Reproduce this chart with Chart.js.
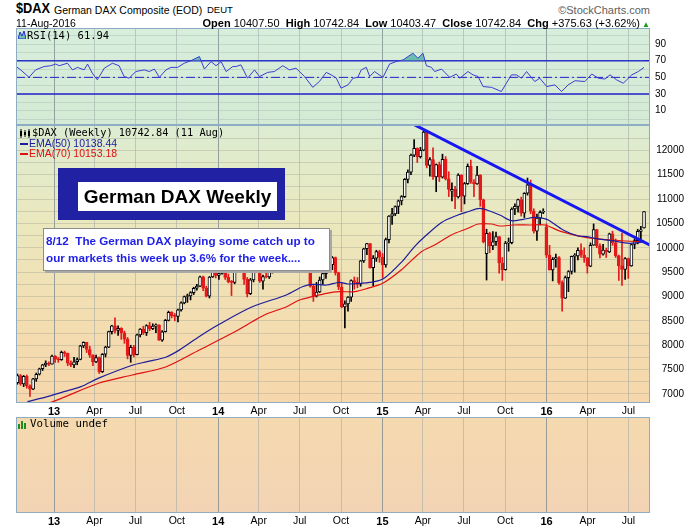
<!DOCTYPE html>
<html>
<head>
<meta charset="utf-8">
<script src="https://cdn.jsdelivr.net/npm/chart.js@4.4.1/dist/chart.umd.min.js"></script>
<style>
  body { margin: 0; width: 700px; height: 530px; background: #fff; position: relative; overflow: hidden;
         font-family: "Liberation Sans", Arial, sans-serif; color: #000; }
  canvas { position: absolute; left: 0; }
  .t { position: absolute; white-space: nowrap; line-height: 14px; }
  .mono { font-family: "DejaVu Sans Mono", monospace; }
  #boxTitle { position: absolute; left: 58px; top: 168px; width: 227px; height: 52px; background: #2121a3; }
  #boxTitle div { position: absolute; left: 20px; top: 14px; width: 199px; height: 29px; background: #fff;
                  font: bold 19px "Liberation Sans", Arial, sans-serif; line-height: 29px; text-align: center; }
  #boxNote { position: absolute; left: 43px; top: 228px; width: 283px; height: 38px; background: #fff;
             border: 1px solid #8c8c8c; box-shadow: 2px 2px 0 #a8a8a8;
             font: bold 11.7px "Liberation Sans", Arial, sans-serif; color: #1f1fe6; line-height: 17px; padding: 3px 0 0 2px; box-sizing: content-box; }
</style>
</head>
<body>
<canvas id="rsiChart" width="700" height="97" style="top:28px"></canvas>
<canvas id="priceChart" width="700" height="295" style="top:125px"></canvas>
<canvas id="volChart" width="700" height="113" style="top:417px"></canvas>

<!-- header -->
<div class="t" style="left:16px;top:1px;font-weight:bold;font-size:15px;transform:scaleX(0.85);transform-origin:left">$DAX</div>
<div class="t" style="left:54px;top:3px;font-size:10.5px">German DAX Composite (EOD)</div>
<div class="t" style="left:207px;top:3px;font-size:9.5px">DEUT</div>
<div class="t" style="right:50px;top:3px;font-size:11px;color:#606060">&copy;StockCharts.com</div>
<div class="t" style="left:16px;top:16px;font-size:10.5px">11-Aug-2016</div>
<div class="t" style="right:50px;top:16px;font-size:11px">
  <b>Open</b> 10407.50 &nbsp;<b>High</b> 10742.84 &nbsp;<b>Low</b> 10403.47 &nbsp;<b>Close</b> 10742.84 &nbsp;<b>Chg</b> +375.63 (+3.62%)<span style="color:#1a9a1a;font-size:8px"> &#9650;</span>
</div>

<!-- RSI legend -->
<svg style="position:absolute;left:18px;top:31px" width="8" height="8"><path d="M0 8 L2 1 L4 5 L6 0 L8 8 Z" fill="#6fc0b0" stroke="#2a2ad0" stroke-width="1"/></svg>
<div class="t mono" style="left:27px;top:28px;font-size:10.5px">RSI(14) 61.94</div>

<!-- price legend -->
<svg style="position:absolute;left:19px;top:129px" width="12" height="9">
  <path d="M2 0 V9 M6 1 V8 M10 0 V9" stroke="#000"/><rect x="1" y="2" width="2" height="5" fill="#000"/><rect x="5" y="3" width="2" height="3" fill="#000"/><rect x="9" y="2" width="2" height="5" fill="#000"/>
</svg>
<div class="t mono" style="left:32px;top:125px;font-size:10.3px">$DAX (Weekly) 10742.84 (11 Aug)</div>
<div style="position:absolute;left:20px;top:143px;width:8px;height:2px;background:#1c1c9c"></div>
<div class="t" style="left:29px;top:136px;font-size:10.5px;color:#1c1c9c">EMA(50) 10138.44</div>
<div style="position:absolute;left:20px;top:153px;width:8px;height:2px;background:#e01010"></div>
<div class="t" style="left:29px;top:146px;font-size:10.5px;color:#e01010">EMA(70) 10153.18</div>

<!-- volume legend -->
<svg style="position:absolute;left:18px;top:420px" width="10" height="9"><rect x="0" y="4" width="2" height="5" fill="#1e8c1e"/><rect x="3" y="1" width="2" height="8" fill="#1e8c1e"/><rect x="6" y="3" width="2" height="6" fill="#1e8c1e"/></svg>
<div class="t mono" style="left:30px;top:417px;font-size:10.8px">Volume undef</div>

<!-- annotations -->
<div id="boxTitle"><div>German DAX Weekly</div></div>
<div id="boxNote">8/12&nbsp; The German DAX playing some catch up to<br>our markets this week up 3.6% for the week....</div>

<script>
// weekly candles, week 0 = week of 15-Oct-2012, last = week of 8-Aug-2016
const opens = [
  7232,7380,7204,7363,7163,7101,7309,7405,7518,7596, 7636,7612,7776,7715,7702,7857,7833,7634,7594,7662,
  7708,7986,8058,7913,7795,7658,7745,7459,7815,7962, 8278,8398,8305,8348,8254,8127,7789,7959,7806,8212,
  8331,8260,8403,8338,8391,8417,8103,8276,8509,8675, 8608,8592,8725,8869,9001,9010,9079,9169,9213,9405,
  9172,9006,9400,9589,9435,9473,9742,9393,9306,9290, 9662,9657,9692,9351,9056,9342,9588,9695,9316,9409,
  9401,9556,9581,9630,9768,9943,9987,9912,9987,9815, 10009,9666,9720,9644,9210,9009,9092,9339,9470,9747,
  9651,9799,9490,9195,8788,8850,8988,9326,9291,9252, 9732,9980,10087,9594,9787,9923,9806,9648,10167,10649,
  10694,10846,10963,11050,11402,11551,11901,12040,11868,12001, 12375,11689,11811,11454,11709,11447,11815,11414,11160,11197,
  11041,11492,11058,11316,11673,11347,11309,11490,10985,9880, 10298,10038,10123,10229,9688,9553,10096,10104,10795,10850,
  10988,10708,11119,11293,10752,10340,10608,10728,10430,9849, 9546,9765,9798,9286,8967,9388,9513,9824,9831,9950,
  9851,9794,9622,10051,10373,10039,9870,9952,9917,10287, 10103,9834,9631,9557,9776,9630,10067,10147,10337,10407
];
const highs = [
  7410,7400,7380,7390,7190,7320,7430,7530,7610,7680, 7660,7800,7790,7750,7880,7880,7840,7680,7750,7740,
  8000,8070,8060,7980,7810,7800,7760,7830,7980,8290, 8410,8560,8400,8360,8290,8160,8000,8000,8230,8340,
  8390,8420,8470,8440,8440,8420,8300,8530,8700,8690, 8650,8740,8890,9010,9050,9100,9190,9250,9420,9420,
  9210,9410,9600,9620,9520,9790,9750,9460,9330,9670, 9740,9720,9730,9390,9370,9600,9720,9700,9440,9550,
  9610,9720,9720,9800,9960,10010,10050,10000,10010,10050, 10010,9840,9800,9660,9240,9290,9400,9520,9770,9760,
  9820,9810,9500,9280,8910,9000,9340,9400,9390,9740, 9990,10090,10090,9840,9950,9950,9880,10200,10660,10810,
  10860,10980,11070,11420,11600,11920,12220,12050,12060,12390, 12380,11850,12050,11720,11760,11920,11870,11560,11330,11260,
  11520,11500,11340,11720,11800,11400,11670,11500,11000,10380, 10320,10330,10320,10230,9800,10130,10200,10820,10900,11000,
  11040,11130,11430,11390,10800,10690,10760,10800,10490,10050, 9800,9870,9820,9320,9420,9530,9830,9880,10000,10080,
  10000,9800,10100,10490,10380,10080,10070,9990,10300,10340, 10180,9850,10300,9800,9790,10080,10180,10380,10440,10743
];
const lows = [
  7200,7180,7150,7120,6950,7090,7260,7390,7480,7560, 7580,7610,7650,7650,7690,7770,7580,7560,7540,7600,
  7700,7950,7850,7750,7580,7640,7420,7440,7760,7950, 8230,8250,8200,8120,8040,7720,7650,7760,7800,8170,
  8220,8200,8300,8320,8260,8100,8080,8270,8500,8560, 8500,8480,8700,8850,8880,8930,9040,9130,9200,9120,
  8990,8970,9390,9380,9350,9460,9350,9280,9020,9260, 9610,9560,9250,8990,9040,9300,9560,9290,9150,9380,
  9370,9480,9560,9580,9740,9880,9890,9800,9780,9800, 9620,9640,9560,9190,8900,8990,9080,9250,9370,9600,
  9550,9440,9140,8770,8355,8700,8900,9150,9180,9210, 9700,9860,9580,9220,9720,9700,9380,9600,10100,10480,
  10660,10700,10880,11030,11330,11500,11870,11750,11840,11990, 11640,11470,11400,11150,11360,11430,11390,11050,10960,10800,
  11020,10740,10900,11300,11320,11050,11300,10850,10100,9338, 9900,9960,10050,9480,9330,9540,9930,10080,10680,10730,
  10650,10620,11080,10700,10300,10150,10470,10700,9800,9540, 9320,9600,9250,8700,8960,9100,9460,9500,9750,9800,
  9700,9480,9610,10050,10000,9790,9850,9800,9900,10050, 9800,9330,9226,9350,9370,9620,9980,10080,10150,10403
];
const closes = [
  7380,7204,7363,7163,7101,7309,7405,7518,7596,7636, 7612,7776,7715,7702,7857,7833,7634,7594,7662,7708,
  7986,8058,7913,7795,7658,7745,7459,7815,7962,8278, 8398,8305,8348,8254,8127,7789,7959,7806,8212,8331,
  8260,8403,8338,8391,8417,8103,8276,8509,8675,8608, 8592,8725,8869,9001,9010,9079,9169,9213,9405,9172,
  9006,9400,9589,9435,9473,9742,9393,9306,9290,9662, 9657,9692,9351,9056,9342,9588,9695,9316,9409,9401,
  9556,9581,9630,9768,9943,9987,9912,9987,9815,10009, 9666,9720,9644,9210,9009,9092,9339,9470,9747,9651,
  9799,9490,9195,8788,8850,8988,9326,9291,9252,9732, 9980,10087,9594,9787,9923,9806,9648,10167,10649,10694,
  10846,10963,11050,11402,11551,11901,12040,11868,12001,12375, 11689,11811,11454,11709,11447,11815,11414,11197,11197,11041,
  11492,11058,11316,11673,11347,11309,11490,10985,10124,10298, 10038,10123,10229,9688,9553,10096,10104,10795,10850,10988,
  10708,11119,11293,10752,10340,10608,10728,10743,9849,9546, 9765,9798,9286,8967,9388,9513,9824,9831,9950,9851,
  9794,9622,10051,10373,10039,9870,9952,9917,10287,10103, 9834,9631,9557,9776,9630,10067,10147,10337,10367,10743
];

// moving averages (week, value)
const ema50Weeks  = [3.2,9.5,14.8,20.2,26,36.5,41.2,47.3,51.4,57.8,64.1,74.6,85.4,90.5,93.7,98.2,102.3,104.9,109.2,113.4,116.6,121.9,126.2,129.4,134.7,139.9,143.1,146.8,150.6,153.2,156.9,160.6,164.3,167,168.6,173.3,178.1,180.8,183.4,188.7,194.5,198.3,199];
const ema50Values = [6842,6945,7047,7150,7330,7590,7663,7760,7900,8180,8430,8790,9031,9200,9250,9236,9290,9257,9271,9304,9380,9700,10030,10230,10520,10673,10740,10810,10740,10673,10556,10583,10625,10604,10570,10365,10242,10228,10194,10146,10092,10115,10138.44];
const ema70Weeks  = [5.3,10.1,26,36.5,47.3,57.8,68.3,74.6,79.1,85.5,89.6,93.7,98.2,102.3,107.1,111.2,116,121.9,128.3,132.5,137.8,143.1,146.3,150.6,153.2,157.3,162.7,167.5,172.8,180.8,188.7,198.3,199];
const ema70Values = [6760,6815,7225,7390,7560,7903,8250,8483,8640,8791,8929,8996,9066,9099,9099,9168,9271,9544,9920,10057,10262,10400,10488,10488,10447,10467,10467,10467,10330,10210,10160,10125,10153.18];

// trendline drawn on the chart (week, price)
const trendWeeks  = [126.2, 201.9];
const trendValues = [12519, 10022];

// RSI(14)
const rsiWeeks = [-0.4,1.07,3.7,5.8,8.5,10.6,12.2,13.3,15.9,17.5,19.1,21.2,22.3,23.8,25.4,27.6,30.2,32.3,33.9,35.5,37.6,40.3,41.9,43.5,45.1,47.2,48.8,50.9,53,55.1,57.8,59.4,61.5,63.1,64.7,66.3,68.4,69.4,71,73.1,75.3,76.9,79.5,81.6,84.3,86.4,88.5,91.2,93.8,95.9,98.1,99.7,101.3,102.8,105,106.6,108.1,109.2,110.8,111.9,113.4,116.1,118.2,120.3,122.5,125.6,127.2,128.8,129.9,131.5,132.5,134.7,137.3,139.4,140.5,143.1,144.7,146.3,147.9,150.6,153.7,155.3,156.9,158.5,160.1,161.7,164.3,165.9,168.1,170.7,172.8,174.9,177.1,180.2,182.4,184.5,186.6,188.2,190.3,192.4,193.5,195.1,197.2,199];
const rsiValues = [63,59,50,59,63,64,66,64,67,59,62,59,66,55,47,61,67,64,51,49,57,59,57,60,50,59,62,62,67,70,75,60,69,64,69,57,63,63,65,49,59,51,56,57,64,59,61,51,38,45,56,53,49,37,41,49,50,59,62,51,57,50,66,69,71,79,73,79,64,62,57,60,50,54,49,57,53,51,39,38,33,43,53,53,49,57,45,49,39,41,33,41,46,45,54,49,48,53,47,43,47,53,57,61.94];
const rsiLevels = [30, 50, 70];

// axis ticks
const tickDates  = ['2013-01-01','2013-04-01','2013-07-01','2013-10-01','2014-01-01','2014-04-01','2014-07-01','2014-10-01',
                    '2015-01-01','2015-04-01','2015-07-01','2015-10-01','2016-01-01','2016-04-01','2016-07-01'];
const tickLabels = ['13','Apr','Jul','Oct','14','Apr','Jul','Oct','15','Apr','Jul','Oct','16','Apr','Jul'];
const priceTicks = [7000,7500,8000,8500,9000,9500,10000,10500,11000,11500,12000];
const priceGrid  = [7000,7250,7500,7750,8000,8250,8500,8750,9000,9250,9500,9750,10000,10250,10500,10750,11000,11250,11500,11750,12000,12250,12500];
const rsiTicks   = [10,30,50,70,90];
const rsiGrid    = [0,10,20,30,40,50,60,70,80,90,100];

const X_MIN = -0.43, X_MAX = 200.9;
const BLACK = '#000000', RED = '#e41a1a';

Chart.defaults.font.family = '"Liberation Sans", Arial, sans-serif';
Chart.defaults.animation = false;
Chart.defaults.plugins.legend.display = false;
Chart.defaults.plugins.tooltip.enabled = false;

const weekMs = 7 * 864e5;
const tickPos = tickDates.map(d => (Date.parse(d) - Date.parse('2012-10-15')) / weekMs + 0.5);
const isYear = i => /^\d/.test(tickLabels[i] || '');

const panel = {
  id: 'panel',
  beforeDraw(chart, args, opts) {
    const { ctx, chartArea: a } = chart;
    const g = ctx.createLinearGradient(0, a.top, 0, a.bottom);
    opts.stops.forEach(s => g.addColorStop(s[0], s[1]));
    ctx.save();
    ctx.fillStyle = g;
    ctx.fillRect(a.left, a.top, a.width, a.height);
    ctx.restore();
  },
  afterDraw(chart) {
    const { ctx, chartArea: a } = chart;
    ctx.save();
    ctx.strokeStyle = '#8eadc4';
    ctx.lineWidth = 1;
    ctx.strokeRect(Math.round(a.left) + 0.5, Math.round(a.top) + 0.5, Math.round(a.width) - 1, Math.round(a.height) - 1);
    ctx.restore();
  }
};

// keep the panels flush: no extra room for edge labels
function fitY(s) { s.width = 34; s.paddingTop = 0; s.paddingBottom = 0; }

function xAxis(showLabels) {
  return {
    type: 'linear', min: X_MIN, max: X_MAX, offset: false,
    afterBuildTicks: s => { s.ticks = tickPos.map(v => ({ value: v })); },
    afterFit: s => { s.height = showLabels ? 17 : 0; s.paddingLeft = 0; s.paddingRight = 0; },
    border: { display: false },
    grid: {
      offset: false, drawTicks: false,
      color: c => isYear(c.index) ? 'rgba(120,135,140,0.75)' : 'rgba(160,170,165,0.55)'
    },
    ticks: {
      display: showLabels, autoSkip: false, maxRotation: 0, padding: 2, color: '#000',
      callback: (v, i) => tickLabels[i],
      font: c => isYear(c.index) ? { size: 11, weight: 'bold' } : { size: 10.5 }
    }
  };
}

function pts(xs, ys) { return xs.map((x, i) => ({ x: x, y: ys[i] })); }

const layoutOpts = { autoPadding: false, padding: { left: 16, right: 16, top: 0, bottom: 0 } };

// RSI panel
new Chart(document.getElementById('rsiChart'), {
  type: 'line',
  data: {
    datasets: [
      { data: pts(rsiWeeks, rsiValues), borderColor: '#3c3cd2', borderWidth: 1, pointRadius: 0, tension: 0,
        fill: { target: { value: 70 }, above: 'rgba(90,180,165,0.85)', below: 'rgba(0,0,0,0)' } },
      ...rsiLevels.map(lv => ({
        data: [{ x: X_MIN, y: lv }, { x: X_MAX, y: lv }],
        borderColor: '#2222cc', borderWidth: lv === 50 ? 1 : 1.4, pointRadius: 0,
        borderDash: lv === 50 ? [9, 3, 2, 3] : []
      }))
    ]
  },
  options: {
    responsive: false, layout: layoutOpts,
    scales: {
      x: xAxis(false),
      y: {
        position: 'right', min: -7.2, max: 109.3,
        afterBuildTicks: s => { s.ticks = rsiGrid.map(v => ({ value: v })); },
        afterFit: fitY,
        border: { display: false },
        grid: { drawTicks: false, color: 'rgba(165,190,180,0.45)' },
        ticks: { autoSkip: false, padding: 5, color: '#000', font: { size: 10 },
                 callback: v => rsiTicks.includes(v) ? String(v) : '' }
      }
    },
    plugins: { panel: { stops: [[0, '#d8eedc'], [1, '#d4ead4']] } }
  },
  plugins: [panel]
});

// price panel
const prevClose = closes.map((c, i) => i === 0 ? opens[0] : closes[i - 1]);
const lineColor = closes.map((c, i) => c >= prevClose[i] ? BLACK : RED);
const bodyFill = closes.map((c, i) => c >= opens[i] ? '#ffffff' : lineColor[i]);

new Chart(document.getElementById('priceChart'), {
  type: 'bar',
  data: {
    datasets: [
      { type: 'line', data: pts(trendWeeks, trendValues), borderColor: '#1616f2', borderWidth: 3, pointRadius: 0, order: 0 },
      { type: 'line', data: pts(ema50Weeks, ema50Values), borderColor: '#1c1c9c', borderWidth: 1.2, pointRadius: 0, tension: 0.3, order: 1 },
      { type: 'line', data: pts(ema70Weeks, ema70Values), borderColor: '#e01010', borderWidth: 1.2, pointRadius: 0, tension: 0.3, order: 1 },
      { data: closes.map((c, i) => ({ x: i, y: [opens[i], c] })), backgroundColor: bodyFill, borderColor: lineColor,
        borderWidth: 1, borderSkipped: false, barThickness: 3, minBarLength: 1, grouped: false, order: 2 },
      { data: closes.map((c, i) => ({ x: i, y: [lows[i], highs[i]] })), backgroundColor: lineColor,
        borderWidth: 0, barThickness: 1, grouped: false, order: 3 }
    ]
  },
  options: {
    responsive: false, layout: layoutOpts,
    scales: {
      x: xAxis(true),
      y: {
        position: 'right', min: 6815, max: 12519,
        afterBuildTicks: s => { s.ticks = priceGrid.map(v => ({ value: v })); },
        afterFit: fitY,
        border: { display: false },
        grid: { drawTicks: false, color: 'rgba(170,170,150,0.45)' },
        ticks: { autoSkip: false, padding: 0, crossAlign: 'far', color: '#000', font: { size: 10 },
                 callback: v => priceTicks.includes(v) ? String(v) : '' }
      }
    },
    plugins: { panel: { stops: [[0, '#dcecd2'], [0.35, '#ebe8be'], [0.7, '#f3ddb1'], [1, '#f6d7ab']] } }
  },
  plugins: [panel]
});

// volume panel (no volume data for this index)
new Chart(document.getElementById('volChart'), {
  type: 'bar',
  data: { datasets: [] },
  options: {
    responsive: false, layout: layoutOpts,
    scales: {
      x: xAxis(true),
      y: { position: 'right', min: 0, max: 1, afterFit: fitY,
           border: { display: false }, grid: { display: false }, ticks: { display: false } }
    },
    plugins: { panel: { stops: [[0, '#f5d9ae'], [1, '#f2d4b5']] } }
  },
  plugins: [panel]
});
</script>
</body>
</html>
